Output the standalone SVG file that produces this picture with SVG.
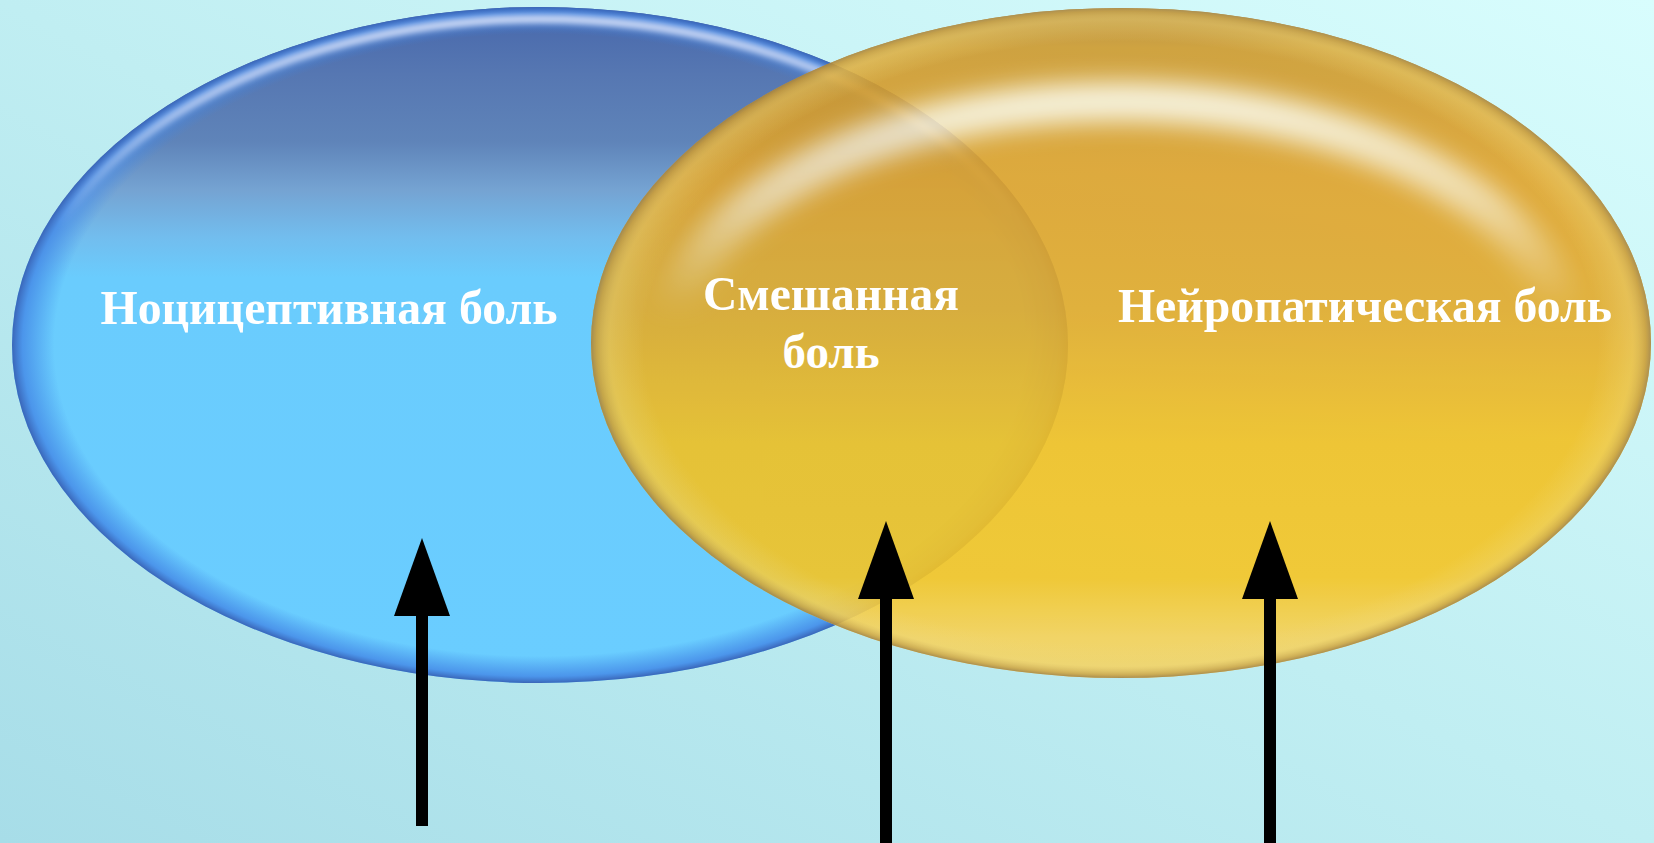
<svg xmlns="http://www.w3.org/2000/svg" width="1654" height="843" viewBox="0 0 1654 843">
  <defs>
    <!-- page background -->
    <linearGradient id="bg" x1="0" y1="1" x2="1" y2="0">
      <stop offset="0" stop-color="#a7dde8"/>
      <stop offset="0.5" stop-color="#c0eef2"/>
      <stop offset="1" stop-color="#d8fdfd"/>
    </linearGradient>

    <!-- blue lens -->
    <linearGradient id="blueBody" x1="0" y1="0" x2="0" y2="1">
      <stop offset="0" stop-color="#4767ab"/>
      <stop offset="0.1" stop-color="#5677b2"/>
      <stop offset="0.2" stop-color="#5f84b9"/>
      <stop offset="0.27" stop-color="#75a3d2"/>
      <stop offset="0.34" stop-color="#72bdee"/>
      <stop offset="0.4" stop-color="#6accfd"/>
      <stop offset="1" stop-color="#6acdff"/>
    </linearGradient>
    <radialGradient id="blueEdge" cx="0.5" cy="0.5" r="0.5">
      <stop offset="0.92" stop-color="#3f86e6" stop-opacity="0"/>
      <stop offset="0.98" stop-color="#4488e6" stop-opacity="0.8"/>
      <stop offset="1" stop-color="#3a66b8" stop-opacity="1"/>
    </radialGradient>
    <linearGradient id="blueShine" x1="0" y1="0" x2="0" y2="1">
      <stop offset="0" stop-color="#eef0ff" stop-opacity="0.85"/>
      <stop offset="0.15" stop-color="#eef0ff" stop-opacity="0.6"/>
      <stop offset="0.32" stop-color="#ffffff" stop-opacity="0"/>
    </linearGradient>

    <!-- gold lens -->
    <linearGradient id="goldBody" x1="0" y1="0" x2="0" y2="1">
      <stop offset="0" stop-color="#b98a35"/>
      <stop offset="0.06" stop-color="#cf9a2e"/>
      <stop offset="0.25" stop-color="#e0a22a"/>
      <stop offset="0.45" stop-color="#e3aa2a"/>
      <stop offset="0.65" stop-color="#f3c122"/>
      <stop offset="0.85" stop-color="#f5c524"/>
      <stop offset="0.94" stop-color="#f7d258"/>
      <stop offset="1" stop-color="#f4d466"/>
    </linearGradient>
    <radialGradient id="goldEdge" cx="0.5" cy="0.5" r="0.5">
      <stop offset="0.9" stop-color="#f6d66a" stop-opacity="0"/>
      <stop offset="0.965" stop-color="#f2d46c" stop-opacity="0.4"/>
      <stop offset="0.99" stop-color="#c49a3c" stop-opacity="0.75"/>
      <stop offset="1" stop-color="#a8843e" stop-opacity="1"/>
    </radialGradient>
    <linearGradient id="goldShine" x1="0" y1="0" x2="0" y2="1">
      <stop offset="0" stop-color="#fdf6e2" stop-opacity="0.95"/>
      <stop offset="0.2" stop-color="#fbf0d6" stop-opacity="0.7"/>
      <stop offset="0.42" stop-color="#f8e8c0" stop-opacity="0"/>
    </linearGradient>

    <filter id="soft" x="-10%" y="-10%" width="120%" height="120%">
      <feGaussianBlur stdDeviation="3"/>
    </filter>
    <filter id="softWide" x="-10%" y="-10%" width="120%" height="120%">
      <feGaussianBlur stdDeviation="12"/>
    </filter>

    <marker id="head" viewBox="0 0 78 56" markerUnits="userSpaceOnUse" markerWidth="78" markerHeight="56" refX="0" refY="28" orient="auto">
      <path d="M0,0 L78,28 L0,56 Z" fill="#000"/>
    </marker>

    <style>
      .label { font-family: "Liberation Serif", "Times New Roman", serif; font-weight: bold; font-size: 49px; fill: #ffffff; text-anchor: middle; }
      .arrow { stroke: #000; stroke-width: 12; fill: none; marker-end: url(#head); }
    </style>
  </defs>

  <rect width="1654" height="843" fill="url(#bg)"/>

  <!-- nociceptive -->
  <g id="node-nociceptive">
    <ellipse cx="540" cy="345" rx="528" ry="338" fill="url(#blueBody)"/>
    <ellipse cx="540" cy="345" rx="528" ry="338" fill="url(#blueEdge)"/>
    <ellipse cx="540" cy="345" rx="516" ry="326" fill="none" stroke="url(#blueShine)" stroke-width="8" filter="url(#soft)"/>
    <text class="label" x="329" y="324" textLength="457" lengthAdjust="spacingAndGlyphs">Ноцицептивная боль</text>
  </g>

  <!-- neuropathic, translucent over the blue lens -->
  <g id="node-neuropathic">
    <g opacity="0.9">
      <ellipse cx="1121" cy="343" rx="530" ry="335" fill="url(#goldBody)"/>
      <ellipse cx="1121" cy="343" rx="530" ry="335" fill="url(#goldEdge)"/>
      <ellipse cx="1118" cy="352" rx="450" ry="250" fill="none" stroke="url(#goldShine)" stroke-width="40" filter="url(#softWide)"/>
    </g>
    <text class="label" x="1365" y="322" textLength="494" lengthAdjust="spacingAndGlyphs">Нейропатическая боль</text>
  </g>

  <!-- mixed -->
  <g id="node-mixed">
    <text class="label" x="831" y="310" textLength="256" lengthAdjust="spacingAndGlyphs">Смешанная</text>
    <text class="label" x="831" y="368" textLength="97" lengthAdjust="spacingAndGlyphs">боль</text>
  </g>

  <g id="connectors">
    <line class="arrow" x1="422" y1="826" x2="422" y2="616"/>
    <line class="arrow" x1="886" y1="843" x2="886" y2="599"/>
    <line class="arrow" x1="1270" y1="843" x2="1270" y2="599"/>
  </g>
</svg>
